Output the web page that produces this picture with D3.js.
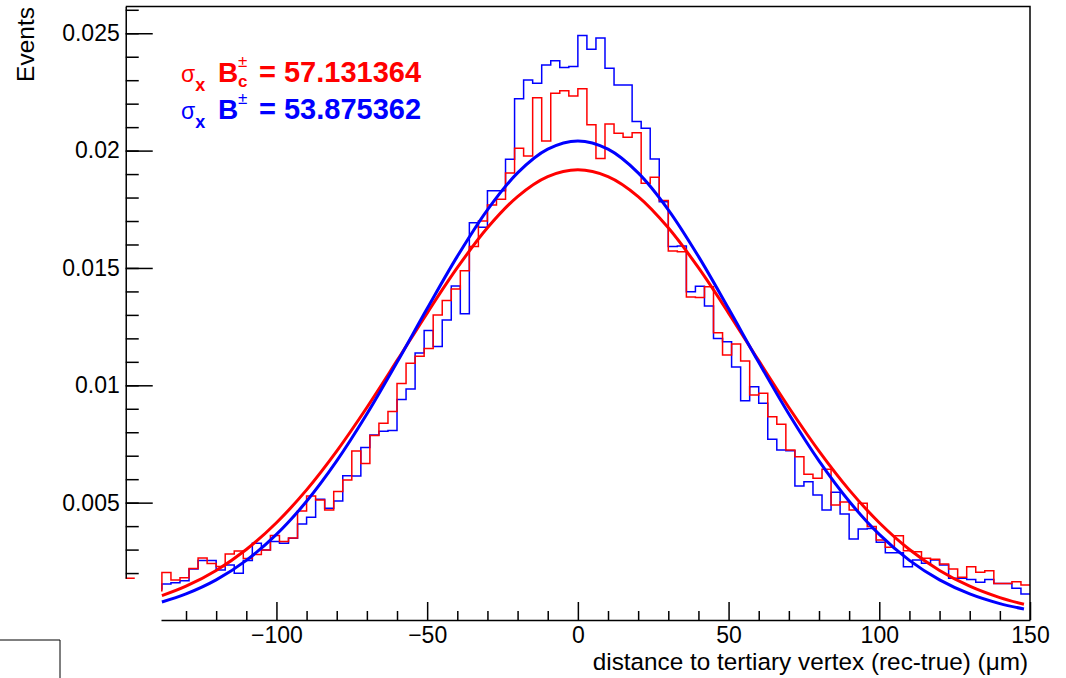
<!DOCTYPE html>
<html>
<head>
<meta charset="utf-8">
<script src="https://cdn.jsdelivr.net/npm/d3@7"></script>
<style>
body { margin: 0; background: #fff; }
text { font-family: "Liberation Sans", Arial, Helvetica, sans-serif; }
</style>
</head>
<body>
<div class="chart"></div>
<script>
const width = 1066, height = 678;

// bins are 3 um wide, low edges from -141 up to 147
const binWidth = 3;
const binLow = d3.range(-141, 150, binWidth);

// B_c+- histogram (red)
const bcEvents = [
  0.00125, 0.00202, 0.00170, 0.00180, 0.00219, 0.00264, 0.00241, 0.00228, 0.00281, 0.00294,
  0.00262, 0.00279, 0.00298, 0.00360, 0.00334, 0.00349, 0.00464, 0.00528, 0.00511, 0.00469,
  0.00547, 0.00597, 0.00720, 0.00667, 0.00786, 0.00838, 0.00888, 0.01008, 0.01094, 0.01124,
  0.01157, 0.01300, 0.01361, 0.01410, 0.01488, 0.01591, 0.01700, 0.01768, 0.01793, 0.01905,
  0.02010, 0.01977, 0.02225, 0.02041, 0.02244, 0.02255, 0.02233,
  0.02264, 0.02110, 0.01966, 0.02113, 0.02074, 0.02057, 0.02076, 0.01861, 0.01886, 0.01787,
  0.01572, 0.01569, 0.01376, 0.01374, 0.01420, 0.01224, 0.01129, 0.01176, 0.01104, 0.00959,
  0.00966, 0.00866, 0.00834, 0.00724, 0.00696, 0.00621, 0.00604, 0.00642, 0.00490, 0.00503,
  0.00469, 0.00497, 0.00398, 0.00341, 0.00310, 0.00359, 0.00295, 0.00291, 0.00263, 0.00259,
  0.00239, 0.00217, 0.00182, 0.00227, 0.00203, 0.00210, 0.00156, 0.00156, 0.00163, 0.00149
];

// B+- histogram (blue)
const bEvents = [
  0.00132, 0.00153, 0.00159, 0.00167, 0.00217, 0.00253, 0.00253, 0.00213, 0.00234, 0.00199,
  0.00253, 0.00327, 0.00298, 0.00334, 0.00327, 0.00348, 0.00409, 0.00438, 0.00514, 0.00476,
  0.00507, 0.00615, 0.00614, 0.00735, 0.00788, 0.00804, 0.00807, 0.00940, 0.00984, 0.01138,
  0.01233, 0.01165, 0.01278, 0.01423, 0.01305, 0.01693, 0.01673, 0.01829, 0.01829, 0.01963,
  0.02221, 0.02301, 0.02287, 0.02365, 0.02383, 0.02354, 0.02358,
  0.02490, 0.02432, 0.02480, 0.02351, 0.02279, 0.02279, 0.02124, 0.02095, 0.01964, 0.01782,
  0.01591, 0.01594, 0.01399, 0.01422, 0.01338, 0.01199, 0.01186, 0.01078, 0.00934, 0.00994,
  0.00923, 0.00770, 0.00724, 0.00721, 0.00571, 0.00589, 0.00533, 0.00469, 0.00544, 0.00452,
  0.00345, 0.00388, 0.00390, 0.00331, 0.00287, 0.00287, 0.00227, 0.00256, 0.00242, 0.00256,
  0.00234, 0.00178, 0.00178, 0.00173, 0.00161, 0.00173, 0.00156, 0.00156, 0.00135, 0.00111
];

// gaussian fit curves, sampled off the plot
const fitX = [-138, -130, -120, -110, -100, -90, -80, -70, -60, -50, -40, -30, -20, -10, 0,
  10, 20, 30, 40, 50, 60, 70, 80, 90, 100, 110, 120, 130, 140, 148];
const bcFit = [0.001037, 0.001440, 0.002113, 0.003005, 0.004145, 0.005545, 0.007196, 0.009054,
  0.011049, 0.013078, 0.015010, 0.016710, 0.018040, 0.018889, 0.019180, 0.018889, 0.018040,
  0.016710, 0.015010, 0.013078, 0.011049, 0.009054, 0.007196, 0.005545, 0.004145, 0.003005,
  0.002113, 0.001440, 0.000953, 0.000669];
const bFit = [0.000768, 0.001110, 0.001708, 0.002539, 0.003646, 0.005057, 0.006777, 0.008775,
  0.010978, 0.013269, 0.015494, 0.017479, 0.019051, 0.020061, 0.020410, 0.020061, 0.019051,
  0.017479, 0.015494, 0.013269, 0.010978, 0.008775, 0.006777, 0.005057, 0.003646, 0.002539,
  0.001708, 0.001110, 0.000698, 0.000469];

const xTicks = [-100, -50, 0, 50, 100, 150];
const xMinorTicks = [-130, -120, -110, -90, -80, -70, -60, -40, -30, -20, -10,
  10, 20, 30, 40, 60, 70, 80, 90, 110, 120, 130, 140];
const yTicks = [0.005, 0.01, 0.015, 0.02, 0.025];

const legendRows = [
  {label: "57.131364", low: "c", color: "#ff0000", baseline: 82},
  {label: "53.875362", low: null, color: "#0000ff", baseline: 119}
];

const xMin = -138.3, xMax = 150, yMax = 0.02614, yAxisMin = 0.00178;

const svg = d3.select(".chart").append("svg")
  .attr("width", width)
  .attr("height", height);

const x = d3.scaleLinear().domain([xMin, xMax]).range([161, 1030]);
const y = d3.scaleLinear().domain([0, yMax]).range([620, 6.5]);

svg.append("clipPath").attr("id", "frame")
  .append("rect")
  .attr("x", x(xMin)).attr("y", y(yMax))
  .attr("width", x(xMax) - x(xMin))
  .attr("height", y(0) - y(yMax));

const steps = vals => binLow.flatMap((lo, i) => [[lo, vals[i]], [lo + binWidth, vals[i]]]);

const line = d3.line()
  .x(d => x(d[0]))
  .y(d => y(d[1]));

const plot = svg.append("g").attr("clip-path", "url(#frame)");

plot.append("path")
  .datum(steps(bEvents))
  .attr("fill", "none")
  .attr("stroke", "#0000ff")
  .attr("stroke-width", 1.5)
  .attr("d", line);

plot.append("path")
  .datum(steps(bcEvents))
  .attr("fill", "none")
  .attr("stroke", "#ff0000")
  .attr("stroke-width", 1.5)
  .attr("d", line);

const fitLine = d3.line()
  .x(d => x(d[0]))
  .y(d => y(d[1]))
  .curve(d3.curveCatmullRom);

plot.append("path")
  .datum(fitX.map((v, i) => [v, bcFit[i]]))
  .attr("fill", "none")
  .attr("stroke", "#ff0000")
  .attr("stroke-width", 3)
  .attr("d", fitLine);

plot.append("path")
  .datum(fitX.map((v, i) => [v, bFit[i]]))
  .attr("fill", "none")
  .attr("stroke", "#0000ff")
  .attr("stroke-width", 3)
  .attr("d", fitLine);

// underflow piece of the red histogram, sits at the foot of the y axis
svg.append("line")
  .attr("x1", x(-150)).attr("x2", x(-150 + binWidth))
  .attr("y1", y(yAxisMin)).attr("y2", y(yAxisMin))
  .attr("stroke", "#ff0000")
  .attr("stroke-width", 1.5);

// frame top and right
svg.append("path")
  .attr("d", `M${x(-150)},${y(yMax)}H${x(xMax)}V${y(0)}`)
  .attr("fill", "none")
  .attr("stroke", "black")
  .attr("stroke-width", 1.5);

svg.append("g")
  .attr("transform", `translate(0,${y(0)})`)
  .call(d3.axisBottom(x).tickValues(xTicks).tickSize(-18).tickSizeOuter(0).tickPadding(7));

svg.append("g")
  .attr("transform", `translate(0,${y(0)})`)
  .call(d3.axisBottom(x).tickValues(xMinorTicks).tickSize(-9).tickFormat(""))
  .select(".domain").remove();

const yAx = y.copy().domain([yAxisMin, yMax]).range([y(yAxisMin), y(yMax)]);

svg.append("g")
  .attr("transform", `translate(${x(-150)},0)`)
  .call(d3.axisLeft(yAx).tickValues(yTicks).tickSize(-27).tickSizeOuter(0).tickPadding(6)
    .tickFormat(d3.format(".3~f")));

svg.append("g")
  .attr("transform", `translate(${x(-150)},0)`)
  .call(d3.axisLeft(yAx).tickValues(d3.range(0.002, 0.0265, 0.001)).tickSize(-13).tickFormat(""))
  .select(".domain").remove();

svg.selectAll(".tick line, .domain").attr("stroke-width", 1.5);
svg.selectAll(".tick text")
  .attr("font-size", 23)
  .attr("font-family", "'Liberation Sans', Arial, sans-serif")
  .attr("fill", "black");

svg.append("text")
  .attr("x", 1028)
  .attr("y", 670)
  .attr("text-anchor", "end")
  .attr("font-size", 24.3)
  .text("distance to tertiary vertex (rec-true) (μm)");

svg.append("text")
  .attr("transform", "translate(34,7) rotate(-90)")
  .attr("text-anchor", "end")
  .attr("font-size", 24.5)
  .text("Events");

// legend, one text per row with sub/superscripts as tspans
legendRows.forEach(row => {
  const t = svg.append("text")
    .attr("x", 181)
    .attr("y", row.baseline)
    .attr("fill", row.color);
  t.append("tspan").attr("font-size", 23).text("σ");
  t.append("tspan").attr("dy", 9).attr("font-size", 18).attr("font-weight", "bold").text("x");
  t.append("tspan").attr("x", 218).attr("dy", -9)
    .attr("font-size", 28).attr("font-weight", "bold").text("B");
  t.append("tspan").attr("x", 238).attr("dy", -15).attr("font-size", 17).text("±");
  let back = 15;
  if (row.low) {
    t.append("tspan").attr("x", 238).attr("dy", 20)
      .attr("font-size", 17).attr("font-weight", "bold").text(row.low);
    back = -5;
  }
  t.append("tspan").attr("x", 259).attr("dy", back)
    .attr("font-size", 29).attr("font-weight", "bold").text("= " + row.label);
});

// box stub in the lower left corner
svg.append("path")
  .attr("d", "M0,640H60V678")
  .attr("fill", "none")
  .attr("stroke", "black")
  .attr("stroke-width", 1);
</script>
</body>
</html>
